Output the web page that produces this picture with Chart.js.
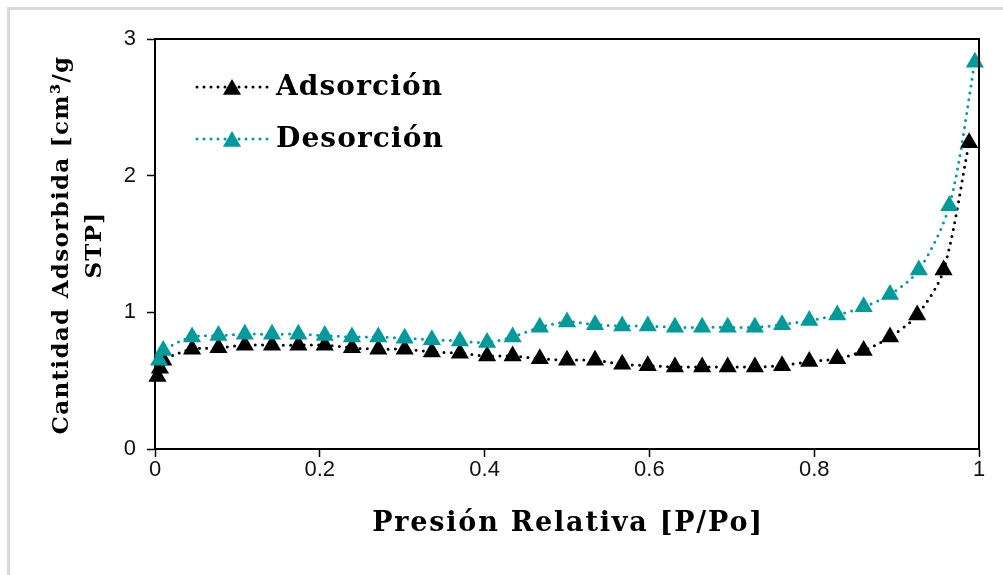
<!DOCTYPE html>
<html>
<head>
<meta charset="utf-8">
<script src="https://cdn.jsdelivr.net/npm/chart.js@4.4.1/dist/chart.umd.min.js"></script>
<style>
  html, body { margin: 0; padding: 0; background: #fff; overflow: hidden; }
  #marco { position: absolute; left: 7px; top: 7px; width: 1200px; height: 800px; border: 3px solid #d9d9d9; box-sizing: border-box; }
  #contenedor { position: absolute; left: 0; top: 0; width: 1003px; height: 575px; }
</style>
</head>
<body>
<div id="marco"></div>
<div id="contenedor"><canvas id="graficoIsoterma"></canvas></div>
<script>
// Isoterma: presion relativa (P/Po) y cantidad adsorbida (cm3/g STP)
const presionAds = [0.003, 0.006, 0.010, 0.045, 0.077, 0.109, 0.142, 0.174, 0.206, 0.239, 0.271,
  0.303, 0.336, 0.370, 0.403, 0.434, 0.467, 0.500, 0.534, 0.567, 0.598, 0.631, 0.664, 0.695,
  0.728, 0.761, 0.794, 0.828, 0.860, 0.892, 0.925, 0.957, 0.988];
const cantidadAds = [0.53, 0.59, 0.65, 0.73, 0.74, 0.76, 0.76, 0.76, 0.76, 0.74, 0.73,
  0.73, 0.71, 0.70, 0.68, 0.68, 0.66, 0.65, 0.65, 0.62, 0.61, 0.60, 0.60, 0.60,
  0.60, 0.61, 0.64, 0.66, 0.72, 0.82, 0.98, 1.31, 2.24];

const presionDes = [0.005, 0.010, 0.045, 0.077, 0.109, 0.142, 0.174, 0.206, 0.239, 0.271,
  0.303, 0.336, 0.370, 0.403, 0.434, 0.467, 0.500, 0.534, 0.567, 0.598, 0.631, 0.664, 0.695,
  0.728, 0.761, 0.794, 0.828, 0.860, 0.892, 0.927, 0.964, 0.995];
const cantidadDes = [0.65, 0.72, 0.82, 0.83, 0.84, 0.84, 0.84, 0.83, 0.82, 0.82,
  0.81, 0.80, 0.79, 0.78, 0.82, 0.89, 0.93, 0.91, 0.90, 0.90, 0.89, 0.89, 0.89,
  0.89, 0.91, 0.94, 0.98, 1.04, 1.13, 1.31, 1.78, 2.83];

const ticksX = [0, 0.2, 0.4, 0.6, 0.8, 1];
const ticksY = [0, 1, 2, 3];

const colorAds = '#000000';
const colorDes = '#009a9a';
const fuenteTitulo = '"DejaVu Serif", serif';

function armarPuntos(xs, ys) {
  return xs.map((x, i) => ({ x: x, y: ys[i] }));
}

function estiloSerie(color) {
  return {
    showLine: true,
    borderColor: color,
    backgroundColor: color,
    borderWidth: 3,
    borderDash: [0, 7],
    borderCapStyle: 'round',
    tension: 0.3,
    pointStyle: 'triangle',
    pointRadius: 10.5,
    pointHoverRadius: 10.5,
    pointBorderWidth: 0,
    pointBackgroundColor: color,
    clip: false
  };
}

// marco del area, titulos de ejes y leyenda
const decoracion = {
  id: 'decoracion',
  afterDraw(chart) {
    const ctx = chart.ctx;
    const area = chart.chartArea;
    ctx.save();
    ctx.strokeStyle = '#000';
    ctx.lineWidth = 2;
    ctx.beginPath();
    ctx.moveTo(area.left, area.top);
    ctx.lineTo(area.right, area.top);
    ctx.lineTo(area.right, area.bottom);
    ctx.stroke();

    ctx.fillStyle = '#000';
    ctx.textAlign = 'center';
    ctx.textBaseline = 'middle';
    ctx.font = 'bold 27px ' + fuenteTitulo;
    ctx.letterSpacing = '1.8px';
    ctx.fillText('Presión Relativa [P/Po]', 568, 524);

    ctx.save();
    ctx.translate(62, 245);
    ctx.rotate(-Math.PI / 2);
    ctx.font = 'bold 23px ' + fuenteTitulo;
    ctx.letterSpacing = '1.3px';
    ctx.fillText('Cantidad Adsorbida [cm³/g', 0, 0);
    ctx.fillText('STP]', 0, 33);
    ctx.restore();

    const filas = [
      { texto: 'Adsorción', color: colorAds, y: 87 },
      { texto: 'Desorción', color: colorDes, y: 139 }
    ];
    filas.forEach(f => {
      ctx.save();
      ctx.strokeStyle = f.color;
      ctx.lineWidth = 3;
      ctx.lineCap = 'round';
      ctx.setLineDash([0, 7]);
      ctx.beginPath();
      ctx.moveTo(197, f.y);
      ctx.lineTo(268, f.y);
      ctx.stroke();
      ctx.restore();
      ctx.fillStyle = f.color;
      Chart.helpers.drawPoint(ctx, { pointStyle: 'triangle', radius: 10.5, borderWidth: 0 }, 232, f.y + 2.5);
      ctx.fillStyle = '#000';
      ctx.textAlign = 'left';
      ctx.font = 'bold 28px ' + fuenteTitulo;
      ctx.letterSpacing = '1.1px';
      ctx.fillText(f.texto, 276, f.y + 1);
    });
    ctx.restore();
  }
};

new Chart(document.getElementById('graficoIsoterma').getContext('2d'), {
  type: 'scatter',
  data: {
    datasets: [
      Object.assign({ label: 'Adsorción', data: armarPuntos(presionAds, cantidadAds), order: 2 }, estiloSerie(colorAds)),
      Object.assign({ label: 'Desorción', data: armarPuntos(presionDes, cantidadDes), order: 1 }, estiloSerie(colorDes))
    ]
  },
  options: {
    responsive: true,
    maintainAspectRatio: false,
    animation: false,
    layout: { padding: { left: 0, top: 39, right: 24, bottom: 0 } },
    plugins: {
      legend: { display: false },
      tooltip: { enabled: false }
    },
    scales: {
      x: {
        type: 'linear',
        min: 0,
        max: 1,
        afterFit: s => { s.height = 126; },
        afterBuildTicks: s => { s.ticks = ticksX.map(v => ({ value: v })); },
        border: { display: true, color: '#000', width: 2 },
        grid: { drawOnChartArea: false, drawTicks: true, tickLength: 8, color: '#000', tickWidth: 1.5 },
        ticks: {
          color: '#111', padding: 0,
          font: { family: '"Liberation Sans", Arial', size: 22 },
          callback: v => String(v)
        }
      },
      y: {
        type: 'linear',
        min: 0,
        max: 3,
        afterFit: s => { s.width = 155; },
        afterBuildTicks: s => { s.ticks = ticksY.map(v => ({ value: v })); },
        border: { display: true, color: '#000', width: 2 },
        grid: { drawOnChartArea: false, drawTicks: true, tickLength: 8, color: '#000', tickWidth: 1.5 },
        ticks: {
          color: '#111', padding: 11,
          font: { family: '"Liberation Sans", Arial', size: 22 },
          callback: v => String(v)
        }
      }
    }
  },
  plugins: [decoracion]
});
</script>
</body>
</html>
